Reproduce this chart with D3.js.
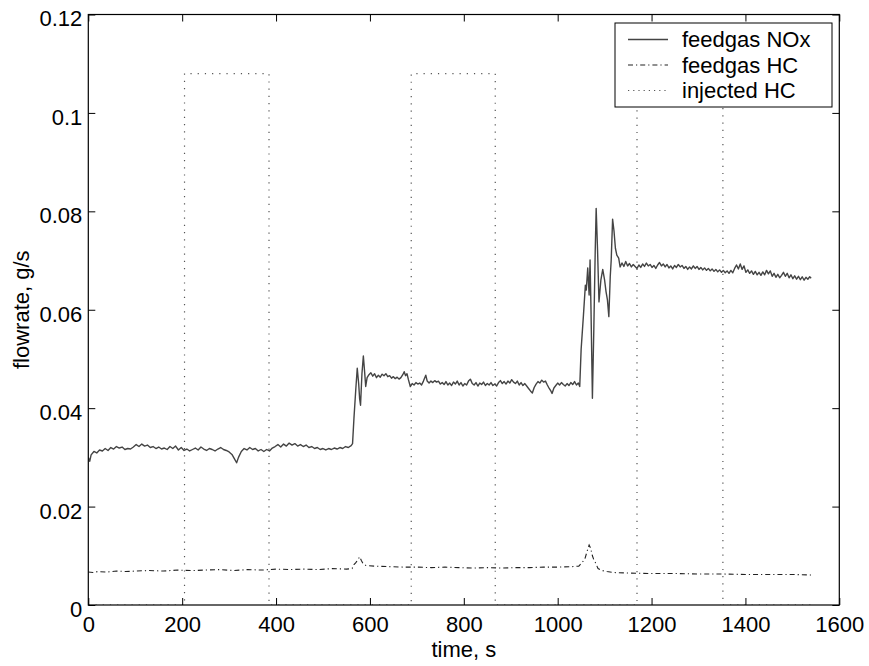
<!DOCTYPE html>
<html>
<head>
<meta charset="utf-8">
<script src="https://cdn.jsdelivr.net/npm/d3@7"></script>
<style>
  html, body { margin: 0; padding: 0; background: #fff; }
  svg { display: block; font-family: "Liberation Sans", Arial, Helvetica, sans-serif; }
</style>
</head>
<body>
<svg id="chart" width="869" height="666"></svg>
<script>
// Feedgas NOx flowrate, [time s, g/s]
const noxSeries = [
  [0,0.0300],[3,0.0292],[6,0.0305],[12,0.0312],[18,0.0309],[24,0.0315],[30,0.0313],[36,0.0318],[42,0.0314],[48,0.0320],
  [54,0.0317],[60,0.0322],[66,0.0319],[72,0.0321],[78,0.0316],[84,0.0318],[90,0.0317],[96,0.0321],[102,0.0326],[108,0.0322],
  [114,0.0327],[120,0.0323],[126,0.0325],[132,0.0320],[138,0.0322],[144,0.0318],[150,0.0321],[156,0.0317],[162,0.0319],[168,0.0316],
  [174,0.0322],[180,0.0318],[186,0.0323],[192,0.0315],[198,0.0320],[204,0.0314],[210,0.0317],[216,0.0313],[222,0.0316],[228,0.0319],
  [234,0.0315],[240,0.0321],[246,0.0317],[252,0.0314],[258,0.0318],[264,0.0316],[270,0.0313],[276,0.0317],[282,0.0320],[288,0.0316],
  [294,0.0314],[300,0.0311],[306,0.0306],[312,0.0296],[316,0.0289],[320,0.0300],[326,0.0312],[332,0.0318],[338,0.0315],[344,0.0320],
  [350,0.0316],[356,0.0318],[362,0.0313],[368,0.0316],[374,0.0312],[380,0.0316],[386,0.0313],[392,0.0319],[398,0.0322],[404,0.0326],
  [410,0.0321],[416,0.0327],[422,0.0323],[428,0.0329],[434,0.0325],[440,0.0328],[446,0.0323],[452,0.0326],[458,0.0322],[464,0.0325],
  [470,0.0320],[476,0.0322],[482,0.0318],[488,0.0320],[494,0.0316],[500,0.0318],[506,0.0315],[512,0.0318],[518,0.0316],[524,0.0319],
  [530,0.0317],[536,0.0320],[542,0.0318],[548,0.0322],[554,0.0320],[560,0.0324],[563,0.0328],
  [566,0.0380],[570,0.0440],[573,0.0481],[576,0.0450],[578,0.0420],[580,0.0406],[583,0.0470],[586,0.0506],[589,0.0470],[591,0.0444],
  [594,0.0462],[598,0.0468],[602,0.0472],[606,0.0465],[610,0.0470],[614,0.0462],[618,0.0467],[622,0.0463],[626,0.0469],[630,0.0466],
  [634,0.0470],[638,0.0464],[642,0.0466],[646,0.0461],[650,0.0464],[654,0.0460],[658,0.0463],[662,0.0459],[666,0.0462],[670,0.0468],
  [673,0.0474],[676,0.0466],[679,0.0470],[682,0.0458],[686,0.0444],[690,0.0450],[694,0.0447],[698,0.0452],[702,0.0449],[706,0.0451],
  [710,0.0447],[714,0.0455],[719,0.0467],[722,0.0455],[726,0.0451],[730,0.0455],[734,0.0452],[738,0.0456],[742,0.0453],[746,0.0455],
  [750,0.0449],[754,0.0452],[758,0.0448],[762,0.0454],[766,0.0447],[770,0.0451],[774,0.0446],[778,0.0453],[782,0.0449],[786,0.0455],
  [790,0.0447],[794,0.0452],[798,0.0445],[802,0.0450],[806,0.0447],[810,0.0455],[814,0.0459],[818,0.0450],[822,0.0447],[826,0.0452],
  [830,0.0445],[834,0.0451],[838,0.0448],[842,0.0453],[846,0.0446],[850,0.0450],[854,0.0447],[858,0.0452],[862,0.0446],[866,0.0449],
  [870,0.0445],[874,0.0452],[878,0.0456],[882,0.0450],[886,0.0454],[890,0.0449],[894,0.0455],[898,0.0451],[902,0.0458],[906,0.0453],
  [910,0.0450],[914,0.0455],[918,0.0447],[922,0.0452],[926,0.0446],[930,0.0450],[934,0.0445],[938,0.0440],[942,0.0435],[946,0.0431],
  [950,0.0442],[954,0.0449],[958,0.0454],[962,0.0451],[966,0.0457],[970,0.0453],[974,0.0455],[978,0.0447],[982,0.0440],[986,0.0434],
  [988,0.0430],[992,0.0441],[996,0.0446],[1000,0.0451],[1004,0.0447],[1008,0.0452],[1012,0.0448],[1016,0.0445],[1020,0.0450],[1024,0.0446],
  [1028,0.0452],[1032,0.0448],[1036,0.0454],[1040,0.0447],[1044,0.0451],[1047,0.0444],
  [1050,0.0520],[1055,0.0590],[1059,0.0650],[1061,0.0640],[1064,0.0685],[1067,0.0630],[1069,0.0701],[1071,0.0600],[1074,0.0420],[1077,0.0560],
  [1080,0.0720],[1082,0.0806],[1085,0.0720],[1088,0.0616],[1092,0.0660],[1096,0.0682],[1100,0.0660],[1103,0.0637],[1106,0.0620],[1109,0.0586],
  [1112,0.0667],[1114,0.0700],[1117,0.0784],[1120,0.0760],[1123,0.0725],[1126,0.0711],[1130,0.0705],[1133,0.0687],[1137,0.0695],[1141,0.0688],
  [1145,0.0698],[1149,0.0689],[1153,0.0694],[1157,0.0687],[1161,0.0692],[1165,0.0688],[1169,0.0684],[1173,0.0691],[1177,0.0686],[1181,0.0693],
  [1185,0.0688],[1189,0.0695],[1193,0.0689],[1197,0.0692],[1201,0.0686],[1205,0.0690],[1209,0.0684],[1213,0.0691],[1217,0.0696],[1221,0.0689],
  [1225,0.0693],[1229,0.0687],[1233,0.0692],[1237,0.0685],[1241,0.0689],[1245,0.0683],[1249,0.0690],[1253,0.0686],[1257,0.0692],[1261,0.0687],
  [1265,0.0690],[1269,0.0684],[1273,0.0688],[1277,0.0682],[1281,0.0687],[1285,0.0683],[1289,0.0689],[1293,0.0684],[1297,0.0688],[1301,0.0682],
  [1305,0.0686],[1309,0.0681],[1313,0.0685],[1317,0.0680],[1321,0.0684],[1325,0.0679],[1329,0.0683],[1333,0.0678],[1337,0.0682],[1341,0.0677],
  [1345,0.0681],[1349,0.0676],[1353,0.0680],[1357,0.0675],[1361,0.0679],[1365,0.0674],[1369,0.0680],[1373,0.0675],[1377,0.0684],[1381,0.0691],
  [1385,0.0683],[1389,0.0693],[1393,0.0682],[1397,0.0689],[1401,0.0676],[1405,0.0681],[1409,0.0674],[1413,0.0679],[1417,0.0672],[1421,0.0678],
  [1425,0.0671],[1429,0.0676],[1433,0.0670],[1437,0.0677],[1441,0.0671],[1445,0.0680],[1449,0.0673],[1453,0.0679],[1457,0.0668],[1461,0.0674],
  [1465,0.0666],[1469,0.0672],[1473,0.0665],[1477,0.0670],[1481,0.0676],[1485,0.0668],[1489,0.0674],[1493,0.0665],[1497,0.0671],[1501,0.0663],
  [1505,0.0669],[1509,0.0662],[1513,0.0668],[1517,0.0661],[1521,0.0667],[1525,0.0660],[1529,0.0666],[1533,0.0662],[1537,0.0667],[1540,0.0664]
];

// Feedgas HC flowrate, [time s, g/s]
const hcSeries = [
  [0,0.0067],[10,0.0066],[20,0.0068],[40,0.0067],[60,0.0069],[80,0.0068],[100,0.0069],[130,0.0070],[160,0.0069],[190,0.0071],
  [220,0.0070],[250,0.0071],[280,0.0072],[310,0.0070],[340,0.0072],[370,0.0071],[400,0.0073],[430,0.0072],[460,0.0073],[490,0.0072],
  [520,0.0074],[550,0.0073],[562,0.0074],[566,0.0082],[570,0.0086],[575,0.0093],[578,0.0098],[582,0.0090],[586,0.0083],[592,0.0080],
  [610,0.0079],[640,0.0078],[670,0.0077],[700,0.0077],[730,0.0076],[760,0.0077],[790,0.0076],[820,0.0075],[850,0.0076],[880,0.0075],
  [910,0.0076],[940,0.0076],[970,0.0077],[1000,0.0077],[1030,0.0078],[1045,0.0079],[1052,0.0086],[1058,0.0094],[1063,0.0110],[1067,0.0122],
  [1070,0.0116],[1074,0.0100],[1077,0.0092],[1080,0.0087],[1086,0.0074],[1095,0.0070],[1105,0.0068],[1120,0.0066],[1150,0.0065],[1200,0.0064],
  [1250,0.0064],[1300,0.0063],[1350,0.0063],[1400,0.0062],[1450,0.0062],[1500,0.0062],[1540,0.0061]
];

// Injected HC pulses: start / end times (s) and rate during injection (g/s)
const injStart = [205, 688, 1169];
const injEnd   = [385, 867, 1352];
const injRate  = 0.108;
const injLast  = 1540;

const xTicks = [0, 200, 400, 600, 800, 1000, 1200, 1400, 1600];
const yTicks = [0, 0.02, 0.04, 0.06, 0.08, 0.1, 0.12];
const yTickLabels = ["0", "0.02", "0.04", "0.06", "0.08", "0.1", "0.12"];
const legendLabels = ["feedgas NOx", "feedgas HC", "injected HC"];

const W = 869, H = 666;
const margin = { left: 88.3, right: W - 839.3, top: 14.5, bottom: H - 605 };
const pw = W - margin.left - margin.right;
const ph = H - margin.top - margin.bottom;

const svg = d3.select("#chart");
svg.append("rect").attr("width", W).attr("height", H).attr("fill", "#fff");

const g = svg.append("g").attr("transform", `translate(${margin.left},${margin.top})`);

const x = d3.scaleLinear().domain([0, 1600]).range([0, pw]);
const y = d3.scaleLinear().domain([0, 0.12]).range([ph, 0]);

g.append("clipPath").attr("id", "plotclip")
  .append("rect").attr("x", 0).attr("y", 0).attr("width", pw).attr("height", ph);

const plot = g.append("g").attr("clip-path", "url(#plotclip)");

// Injected HC as a square-pulse trace
const injSeries = [[0, 0]];
injStart.forEach((s, i) => {
  injSeries.push([s, 0], [s, injRate], [injEnd[i], injRate], [injEnd[i], 0]);
});
injSeries.push([injLast, 0]);

const line = d3.line().x(d => x(d[0])).y(d => y(d[1]));

plot.append("path").datum(injSeries)
  .attr("d", line).attr("fill", "none")
  .attr("stroke", "#555").attr("stroke-width", 1.2)
  .attr("stroke-dasharray", "1.2,6");

plot.append("path").datum(hcSeries)
  .attr("d", line).attr("fill", "none")
  .attr("stroke", "#222").attr("stroke-width", 1.1)
  .attr("stroke-dasharray", "5,3,1.2,3");

plot.append("path").datum(noxSeries)
  .attr("d", line).attr("fill", "none")
  .attr("stroke", "#444").attr("stroke-width", 1.4)
  .attr("stroke-linejoin", "round");

// Axes with inward ticks on all four sides
const fontSize = 22;
const xAxis = g.append("g").attr("transform", `translate(0,${ph})`)
  .call(d3.axisBottom(x).tickValues(xTicks).tickFormat(d3.format("d"))
    .tickSizeInner(-7).tickSizeOuter(0).tickPadding(11.5));
const yAxis = g.append("g")
  .call(d3.axisLeft(y).tickValues(yTicks).tickFormat((d, i) => yTickLabels[i])
    .tickSizeInner(-7).tickSizeOuter(0).tickPadding(6));
yAxis.selectAll("text").attr("dy", "0.52em");
const xTop = g.append("g")
  .call(d3.axisTop(x).tickValues(xTicks).tickFormat("").tickSizeInner(-7).tickSizeOuter(0));
const yRight = g.append("g").attr("transform", `translate(${pw},0)`)
  .call(d3.axisRight(y).tickValues(yTicks).tickFormat("").tickSizeInner(-7).tickSizeOuter(0));

[xAxis, yAxis, xTop, yRight].forEach(a => {
  a.select(".domain").remove();
  a.selectAll("line").attr("stroke", "#000").attr("stroke-width", 1);
  a.selectAll("text").attr("fill", "#000").style("font-size", fontSize + "px")
    .style("font-family", "'Liberation Sans', Arial, sans-serif");
});

g.append("rect").attr("x", 0).attr("y", 0).attr("width", pw).attr("height", ph)
  .attr("fill", "none").attr("stroke", "#000").attr("stroke-width", 1.2);

// Axis titles
svg.append("text")
  .attr("x", margin.left + pw / 2).attr("y", 657)
  .attr("text-anchor", "middle").style("font-size", fontSize + "px")
  .text("time, s");
svg.append("text")
  .attr("transform", `translate(29,${margin.top + ph / 2}) rotate(-90)`)
  .attr("text-anchor", "middle").style("font-size", fontSize + "px")
  .text("flowrate, g/s");

// Legend
const lg = svg.append("g");
lg.append("rect").attr("x", 615).attr("y", 23).attr("width", 217).attr("height", 84)
  .attr("fill", "#fff").attr("stroke", "#000").attr("stroke-width", 1);
const legendStyles = [
  { stroke: "#444", width: 1.3, dash: null },
  { stroke: "#222", width: 1.1, dash: "5,3,1.2,3" },
  { stroke: "#555", width: 1.2, dash: "1.2,4" }
];
legendLabels.forEach((lab, i) => {
  const cy = 39.5 + i * 25.5;
  const s = legendStyles[i];
  lg.append("line").attr("x1", 628).attr("x2", 668).attr("y1", cy).attr("y2", cy)
    .attr("stroke", s.stroke).attr("stroke-width", s.width)
    .attr("stroke-dasharray", s.dash);
  lg.append("text").attr("x", 682).attr("y", cy).attr("dy", "0.36em")
    .style("font-size", fontSize + "px").text(lab);
});
</script>
</body>
</html>
